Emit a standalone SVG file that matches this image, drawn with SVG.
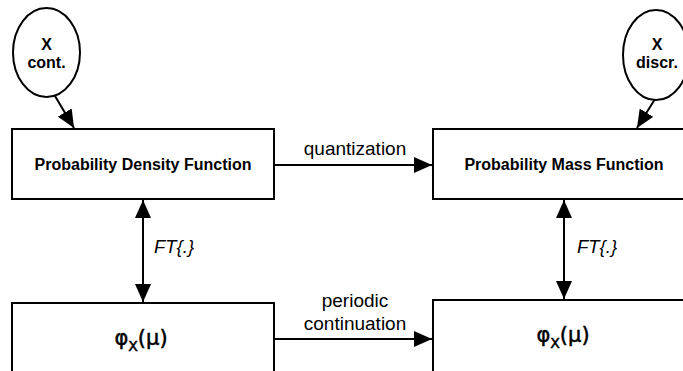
<svg xmlns="http://www.w3.org/2000/svg" width="683" height="371" viewBox="0 0 683 371">
<style>
.box{fill:#fff;stroke:#000;stroke-width:2}
.ell{fill:#fff;stroke:#000;stroke-width:2}
.line{stroke:#000;stroke-width:2;fill:none}
.title{font-family:"Liberation Sans",Arial,sans-serif;font-weight:bold;font-size:16px;text-anchor:middle;fill:#000}
.lbl{font-family:"Liberation Sans",Arial,sans-serif;font-size:19px;text-anchor:middle;fill:#000}
.it{font-family:"Liberation Sans",Arial,sans-serif;font-size:18.5px;font-style:italic;fill:#000}
.phi{font-family:"DejaVu Sans",sans-serif;font-size:21px;text-anchor:middle;fill:#000;stroke:#000;stroke-width:0.5}
</style>
<defs>
<marker id="ah" markerUnits="userSpaceOnUse" markerWidth="20" markerHeight="16" refX="18" refY="8" orient="auto-start-reverse">
<path d="M0,0 L18,8 L0,16 Z" fill="#000"/>
</marker>
</defs>
<g id="connectors">
<line class="line" x1="55" y1="96" x2="74" y2="128" marker-end="url(#ah)"/>
<line class="line" x1="655" y1="99" x2="637" y2="128" marker-end="url(#ah)"/>
<line class="line" x1="274" y1="165" x2="432" y2="165" marker-end="url(#ah)"/>
<line class="line" x1="143" y1="200" x2="143" y2="302" marker-start="url(#ah)" marker-end="url(#ah)"/>
<line class="line" x1="564" y1="200" x2="564" y2="299" marker-start="url(#ah)" marker-end="url(#ah)"/>
<line class="line" x1="274" y1="339" x2="432" y2="339" marker-end="url(#ah)"/>
<text class="lbl" x="355" y="155">quantization</text>
<text class="lbl" x="355" y="307">periodic</text>
<text class="lbl" x="355" y="330">continuation</text>
<text class="it" x="154" y="253">FT{.}</text>
<text class="it" x="577" y="253">FT{.}</text>
</g>
<g id="x-cont">
<ellipse class="ell" cx="46.5" cy="52.5" rx="33.5" ry="44.5"/>
<text class="title" x="46.5" y="50">X</text>
<text class="title" x="46.5" y="68">cont.</text>
</g>
<g id="x-discr">
<ellipse class="ell" cx="656" cy="55" rx="33" ry="45"/>
<text class="title" x="657" y="50">X</text>
<text class="title" x="657" y="68">discr.</text>
</g>
<g id="pdf">
<rect class="box" x="12" y="129" width="262" height="70"/>
<text class="title" x="143" y="170">Probability Density Function</text>
</g>
<g id="pmf">
<rect class="box" x="433" y="129" width="262" height="70"/>
<text class="title" x="564" y="170">Probability Mass Function</text>
</g>
<g id="phi-cont">
<rect class="box" x="12" y="303" width="262" height="80"/>
<text class="phi" x="141" y="345">φ<tspan font-size="14" dy="6">X</tspan><tspan dy="-6">(μ)</tspan></text>
</g>
<g id="phi-discr">
<rect class="box" x="433" y="300" width="262" height="80"/>
<text class="phi" x="563" y="342">φ<tspan font-size="14" dy="6">X</tspan><tspan dy="-6">(μ)</tspan></text>
</g>
</svg>
